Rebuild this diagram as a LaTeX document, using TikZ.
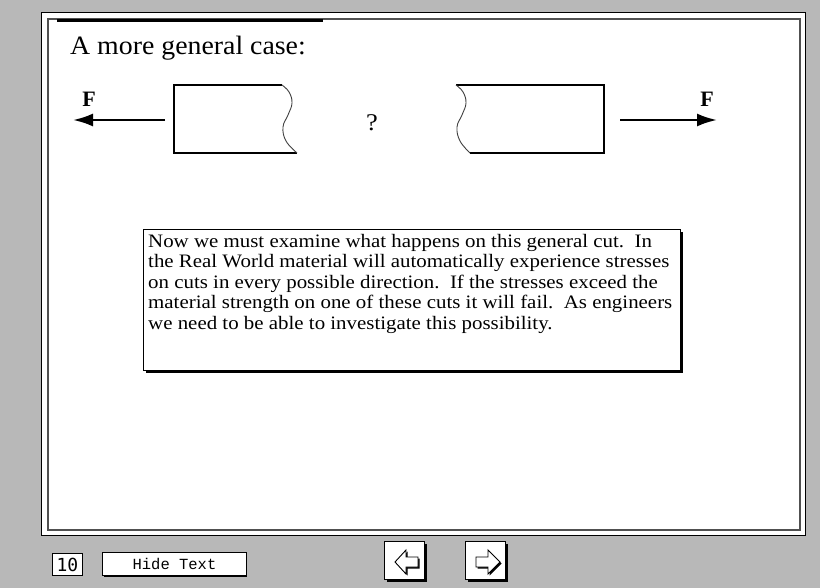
\documentclass[tikz,border=0pt]{standalone}
\usepackage{fontspec}
\setmainfont{Liberation Serif}
\newfontfamily\bodyfont{Liberation Serif}[FakeStretch=1.1]
\newfontfamily\titlefont{Liberation Serif}[FakeStretch=1.05]
\newfontfamily\btnfont{Liberation Mono}
\newfontfamily\numfont{DejaVu Sans Mono}
\usetikzlibrary{arrows.meta}

\definecolor{stipple}{RGB}{184,184,184}
\definecolor{framerule}{RGB}{80,80,80}

\tikzset{
  part/.style={line width=2.6pt, line join=miter},
  cutline/.style={line width=0.9pt, black!75},
  force/.style={line width=2.4pt, -{Latex[length=20pt,width=13pt]}},
  flabel/.style={inner sep=0, font=\bfseries\fontsize{22}{26}\selectfont},
  notebox/.style={draw=black, fill=white, line width=1.2pt, inner sep=0,
    minimum width=537pt, minimum height=141pt, anchor=north west},
  btnbox/.style={draw=black, fill=white, line width=1pt, inner sep=0},
  navarrow/.style={draw=black, fill=white, line width=0.9pt, line join=miter},
}

\begin{document}
\begin{tikzpicture}[x=1pt,y=-1pt]
\useasboundingbox (0,0) rectangle (820,588);
\fill[stipple] (0,0) rectangle (820,588);

% page frame: outer black rule, white band, inner grey rule
\filldraw[fill=white, draw=black, line width=1pt] (41,13) rectangle (805,535);
\draw[framerule, line width=2pt, fill=white] (47.5,19.5) rectangle (800,530);
\draw[black, line width=2.2pt] (57,20.5) -- (323,20.5);

% heading
\node[anchor=base west, inner sep=0, font=\titlefont\fontsize{26.5}{30}\selectfont]
  (title) at (70,55) {A more general case:};

% left part of the bar with its irregular cut
\draw[part] (282,85) -- (174,85) -- (174,153) -- (297,153);
\draw[cutline] plot[smooth, tension=0.7] coordinates
  {(282,85) (289,92) (292,103) (288,115) (283,127) (286,141) (297,153)};

% right part of the bar with its irregular cut
\draw[part] (456,85) -- (604,85) -- (604,153) -- (470,153);
\draw[cutline] plot[smooth, tension=0.7] coordinates
  {(456,85) (463,92) (466,103) (462,115) (457,127) (460,141) (470,153)};

% applied forces
\coordinate (lstart) at (165,120);
\coordinate (ltip) at (73,120);
\coordinate (rstart) at (620,120);
\coordinate (rtip) at (717,120);
\draw[force] (lstart) -- (ltip);
\draw[force] (rstart) -- (rtip);
\node[flabel] (fl) at (89,99) {F};
\node[flabel] (fr) at (707,99) {F};

\node[inner sep=0, font=\bodyfont\fontsize{24}{28}\selectfont] (q) at (372,123) {?};

% explanatory note with drop shadow
\fill[black] (146,232) rectangle (683,373);
\node[notebox] (note) at (143,229) {};
\node[anchor=base west, inner sep=0, font=\bodyfont\fontsize{19}{20.4}\selectfont]
  (notetext) at (148,247.5) {\begin{tabular}[t]{@{}l@{}}
Now we must examine what happens on this general cut.\ \ In\\
the Real World material will automatically experience stresses\\
on cuts in every possible direction.\ \ If the stresses exceed the\\
material strength on one of these cuts it will fail.\ \ As engineers\\
we need to be able to investigate this possibility.
\end{tabular}};

% controls along the bottom
\node[btnbox, minimum width=30pt, minimum height=22pt, anchor=north west,
  font=\numfont\fontsize{18}{20}\selectfont] (pagenum) at (52,553) {10};
\fill[black] (103.5,553.5) rectangle (247,577);
\node[btnbox, minimum width=144pt, minimum height=23pt, anchor=north west,
  font=\btnfont\fontsize{15.5}{18}\selectfont] (hide) at (102,552) {Hide Text};

% previous-page button
\fill[black] (387,544) rectangle (427,582);
\node[btnbox, minimum width=40pt, minimum height=38pt, anchor=north west] (prev) at (384,541) {};
\fill[black] (396.5,563.5) -- (407.5,551.5) -- (407.5,558.5) -- (419.5,558.5)
  -- (419.5,568.5) -- (407.5,568.5) -- (407.5,575.5) -- cycle;
\draw[navarrow] (395,562) -- (406,550) -- (406,557) -- (418,557)
  -- (418,567) -- (406,567) -- (406,574) -- cycle;

% next-page button
\fill[black] (468,544) rectangle (508,582);
\node[btnbox, minimum width=40pt, minimum height=38pt, anchor=north west] (next) at (465,541) {};
\fill[black] (501.5,563.5) -- (489.5,551.5) -- (489.5,558.5) -- (477.5,558.5)
  -- (477.5,568.5) -- (489.5,568.5) -- (489.5,575.5) -- cycle;
\draw[navarrow] (500,562) -- (488,550) -- (488,557) -- (476,557)
  -- (476,567) -- (488,567) -- (488,574) -- cycle;
\end{tikzpicture}
\end{document}
